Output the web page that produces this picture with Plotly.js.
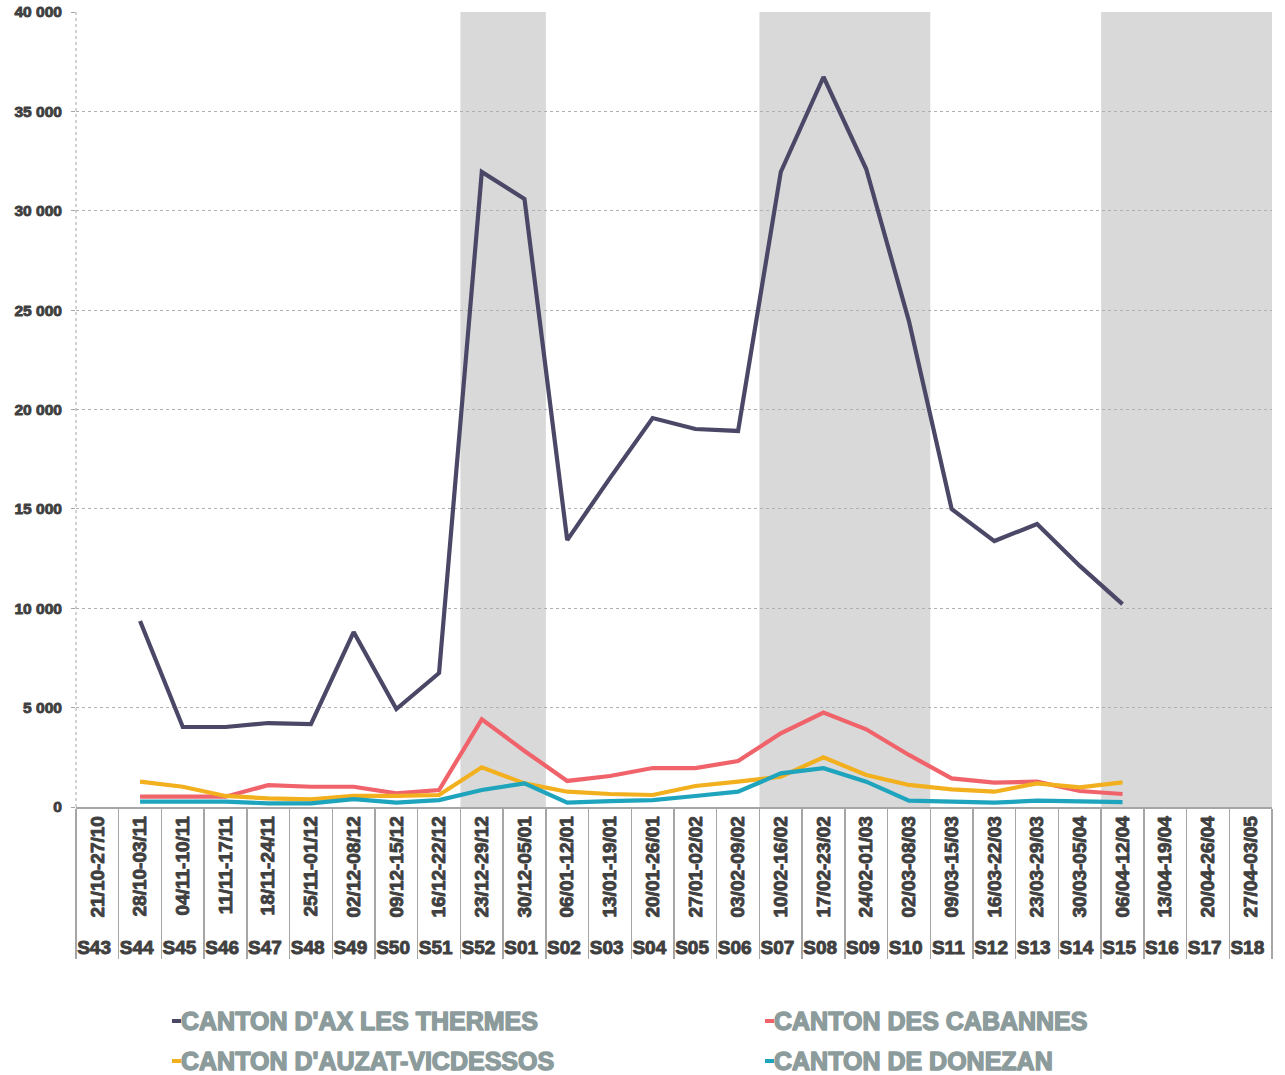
<!DOCTYPE html>
<html>
<head>
<meta charset="utf-8">
<script src="https://cdn.plot.ly/plotly-3.0.1.min.js"></script>
<style>html,body{margin:0;padding:0;background:#fff;}#chart{width:1285px;height:1075px;}
/* faux-bold: the installed Arial-metric face has no bold variant */
.xaxislayer-above text, .yaxislayer-above text { stroke: #404040; stroke-width: 0.9px; paint-order: stroke; stroke-linejoin: round; }
.annotation-text { stroke: #8c9b9b; stroke-width: 1.4px; paint-order: stroke; stroke-linejoin: round; }
</style>
</head>
<body>
<div id="chart"></div>
<script>
const weeks = ['S43','S44','S45','S46','S47','S48','S49','S50','S51','S52','S01','S02','S03','S04','S05','S06','S07','S08','S09','S10','S11','S12','S13','S14','S15','S16','S17','S18'];
const dates = ['21/10-27/10','28/10-03/11','04/11-10/11','11/11-17/11','18/11-24/11','25/11-01/12','02/12-08/12','09/12-15/12','16/12-22/12','23/12-29/12','30/12-05/01','06/01-12/01','13/01-19/01','20/01-26/01','27/01-02/02','03/02-09/02','10/02-16/02','17/02-23/02','24/02-01/03','02/03-08/03','09/03-15/03','16/03-22/03','23/03-29/03','30/03-05/04','06/04-12/04','13/04-19/04','20/04-26/04','27/04-03/05'];

const seriesNames = ["CANTON D'AX LES THERMES", "CANTON DES CABANNES", "CANTON D'AUZAT-VICDESSOS", "CANTON DE DONEZAN"];
const axThermes = [null, 9360, 4025, 4025, 4225, 4175, 8800, 4930, 6740, 31950, 30590, 13430, 16550, 19570, 19020, 18920, 31950, 36730, 32100, 24450, 14990, 13380, 14240, 12130, 10210, null, null, null];
const cabannes  = [null, 520, 520, 520, 1100, 1020, 1020, 690, 855, 4410, 2820, 1310, 1560, 1960, 1960, 2310, 3710, 4750, 3910, 2620, 1440, 1225, 1275, 805, 655, null, null, null];
const auzat     = [null, 1275, 1020, 555, 435, 385, 555, 555, 605, 2000, 1190, 770, 655, 605, 1055, 1275, 1530, 2500, 1610, 1110, 890, 770, 1190, 990, 1240, null, null, null];
const donezan   = [null, 270, 270, 270, 185, 185, 400, 220, 350, 855, 1190, 220, 300, 350, 555, 770, 1690, 1950, 1275, 320, 270, 220, 320, 270, 250, null, null, null];

// holiday periods (shaded), by week
const shadedPeriods = [['S52','S01'], ['S07','S10'], ['S15','S18']];

const colors = ['#4a4866', '#f0636b', '#f2b01e', '#1ea4bc'];
const values = [axThermes, cabannes, auzat, donezan];

const FONT = '"Liberation Sans", Arimo, Arial, sans-serif';

const traces = values.map((v, i) => ({
  type: 'scatter', mode: 'lines',
  x: [weeks, dates], y: v,
  name: seriesNames[i],
  line: {color: colors[i], width: 4.2},
  showlegend: false
}));

// Layout geometry
const W = 1285, H = 1075;
const M = {l: 76, r: 13, t: 12, b: 268};
const pw = W - M.l - M.r, ph = H - M.t - M.b;
const px2x = p => (p - M.l) / pw;
const py2y = p => (H - M.b - p) / ph;

const n = weeks.length;
const shapes = shadedPeriods.map(([a, b]) => ({
  type: 'rect', xref: 'paper', yref: 'paper', layer: 'between',
  x0: weeks.indexOf(a) / n, x1: (weeks.indexOf(b) + 1) / n, y0: 0, y1: 1,
  fillcolor: '#d9d9d9', line: {width: 0}
}));
// dotted left axis line
shapes.push({type: 'line', xref: 'paper', yref: 'paper', x0: 0, x1: 0, y0: 0, y1: 1,
  line: {color: '#a6a6a6', width: 1, dash: 'dot'}, layer: 'between'});

// custom legend (short line marker + text)
const legendPos = [[172, 1021], [765, 1021], [172, 1061], [765, 1061]];
const annotations = [];
seriesNames.forEach((nm, i) => {
  const [lx, ly] = legendPos[i];
  shapes.push({type: 'line', xref: 'paper', yref: 'paper',
    x0: px2x(lx), x1: px2x(lx + 9), y0: py2y(ly), y1: py2y(ly),
    line: {color: colors[i], width: 4}});
  annotations.push({xref: 'paper', yref: 'paper', x: px2x(lx + 7), y: py2y(ly),
    xanchor: 'left', yanchor: 'middle', showarrow: false, text: nm,
    font: {family: FONT, size: 25, color: '#8c9b9b', weight: 'bold'}});
});

const layout = {
  width: W, height: H,
  margin: M,
  paper_bgcolor: '#fff', plot_bgcolor: '#fff',
  separators: ', ',
  showlegend: false,
  font: {family: FONT, color: '#404040', weight: 'bold'},
  xaxis: {
    type: 'multicategory',
    tickangle: -90,
    tickfont: {family: FONT, size: 19, color: '#404040', weight: 'bold'},
    showline: true, linecolor: '#a6a6a6', linewidth: 1.5,
    ticks: 'outside', ticklen: 5, tickcolor: '#a6a6a6',
    showdividers: true, dividercolor: '#a6a6a6', dividerwidth: 1.5,
    showgrid: false, zeroline: false,
    range: [-0.5, n - 0.5]
  },
  yaxis: {
    range: [0, 40000], dtick: 5000, tick0: 0,
    tickformat: ',d',
    tickfont: {family: FONT, size: 15.5, color: '#404040', weight: 'bold'},
    ticklabelstandoff: 6,
    showgrid: true, gridcolor: '#b0b0b0', gridwidth: 1, griddash: 'dot',
    zeroline: false, showline: false,
    ticks: 'outside', ticklen: 4, tickcolor: '#a6a6a6'
  },
  shapes: shapes,
  annotations: annotations
};

Plotly.newPlot('chart', traces, layout, {displayModeBar: false, staticPlot: true});
</script>
</body>
</html>
